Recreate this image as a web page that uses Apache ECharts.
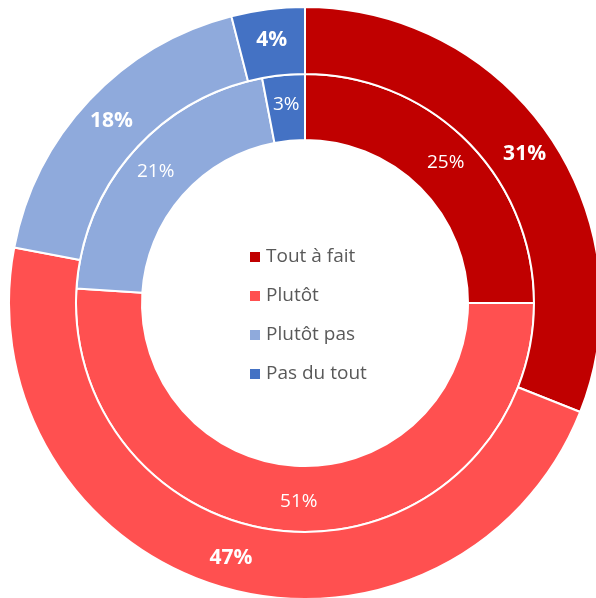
<!DOCTYPE html>
<html>
<head>
<meta charset="utf-8">
<script src="https://cdn.jsdelivr.net/npm/echarts@6/dist/echarts.min.js"></script>
<style>
  html, body { margin: 0; padding: 0; background: #fff; }
  #chart { width: 596px; height: 598px; }
</style>
</head>
<body>
<div id="chart"></div>
<script>
const categories = ["Tout à fait", "Plutôt", "Plutôt pas", "Pas du tout"];
const outerValues = [31, 47, 18, 4];
const innerValues = [25, 51, 21, 3];
const colors = ["#C00000", "#FF5050", "#8FAADC", "#4472C4"];

const mychart = echarts.init(document.getElementById("chart"));
const option = {
  color: colors,
  animation: false,
  legend: {
    orient: "vertical",
    left: 248,
    top: 247,
    padding: 0,
    itemWidth: 12,
    itemHeight: 12,
    itemGap: 19,
    icon: "rect",
    textStyle: {
      fontFamily: "Open Sans",
      fontSize: 19,
      lineHeight: 20,
      color: "#595959",
    },
    data: categories,
  },
  series: [
    {
      name: "inner",
      type: "pie",
      center: [305, 303],
      radius: [163, 229],
      startAngle: 90,
      itemStyle: { borderColor: "#fff", borderWidth: 2 },
      label: {
        position: "inside",
        formatter: "{c}%",
        color: "#fff",
        fontFamily: "Open Sans",
        fontSize: 19,
      },
      labelLine: { show: false },
      data: categories.map((n, i) => ({ name: n, value: innerValues[i] })),
    },
    {
      name: "outer",
      type: "pie",
      center: [305, 303],
      radius: [229, 296],
      startAngle: 90,
      itemStyle: { borderColor: "#fff", borderWidth: 2 },
      label: {
        position: "inside",
        formatter: "{c}%",
        color: "#fff",
        fontFamily: "Open Sans",
        fontWeight: "bold",
        fontSize: 21,
      },
      labelLine: { show: false },
      data: categories.map((n, i) => ({ name: n, value: outerValues[i] })),
    },
  ],
};
mychart.setOption(option);
</script>
</body>
</html>
